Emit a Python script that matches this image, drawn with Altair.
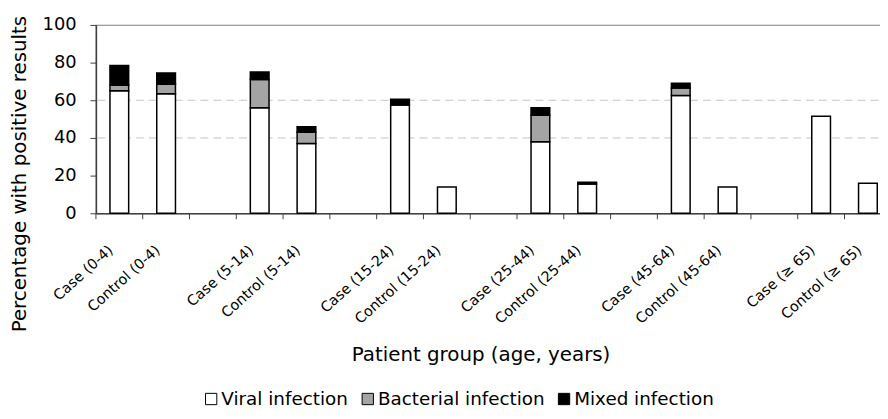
import altair as alt
import pandas as pd

# ---- data ----
bar_labels = ["Case (0-4)", "Control (0-4)", "Case (5-14)", "Control (5-14)",
              "Case (15-24)", "Control (15-24)", "Case (25-44)", "Control (25-44)",
              "Case (45-64)", "Control (45-64)", "Case (≥ 65)", "Control (≥ 65)"]
viral = [65, 63.5, 56, 37, 57.5, 14, 38, 15.5, 62.5, 14, 51.5, 16]
bacterial = [3, 5, 15, 6, 0, 0, 14, 0, 4, 0, 0, 0]
mixed = [10.5, 6, 4, 3, 3, 0, 4, 1, 2.5, 0, 0, 0]
series = ["Viral infection", "Bacterial infection", "Mixed infection"]
colors = ["#ffffff", "#a4a4a4", "#000000"]
y_ticks = [0, 20, 40, 60, 80, 100]
grid_values = [40, 60]

# slot domain: Case, Control, then an empty spacer slot between age groups
domain = []
for i in range(0, len(bar_labels), 2):
    domain += [bar_labels[i], bar_labels[i + 1]]
    if i + 2 < len(bar_labels):
        domain.append("gap%d" % (i // 2))

rows = []
for lab, v, b, m in zip(bar_labels, viral, bacterial, mixed):
    for k, (s, val) in enumerate(zip(series, [v, b, m])):
        rows.append({"label": lab, "series": s, "value": val, "ord": k})
df = pd.DataFrame(rows)

FONT = "DejaVu Sans"
W = 802.4
H = 190
step = W / len(domain)

y_axis = alt.Axis(title="Percentage with positive results", values=y_ticks,
                  grid=False, tickSize=6, tickColor="#404040",
                  domainColor="#404040", labelPadding=14,
                  labelFont=FONT, labelFontSize=18, labelColor="black",
                  titleFont=FONT, titleFontSize=20, titleFontWeight="normal",
                  titleColor="black", titleAngle=270, titleX=-77, titleY=150,
                  titleAlign="center", titleBaseline="middle")
y_scale = alt.Scale(domain=[0, 100])

x_axis = alt.Axis(title="Patient group (age, years)",
                  labelAngle=-42, labelAlign="right", labelBaseline="middle",
                  labelFont=FONT, labelFontSize=14.5, labelColor="black",
                  ticks=False, tickSize=0, labelPadding=35, labelOffset=-8,
                  domainColor="#404040",
                  labelExpr="indexof(datum.label, 'gap') == 0 ? '' : datum.label",
                  labelOverlap=False, labelBound=False, labelFlush=False,
                  labelLimit=0,
                  titleFont=FONT, titleFontSize=20, titleFontWeight="normal",
                  titleColor="black", titleX=388, titleY=149,
                  titleAlign="center", titleBaseline="alphabetic")
x_scale = alt.Scale(domain=domain, paddingInner=0.6, paddingOuter=0.3)

grid = alt.Chart(pd.DataFrame({"g": grid_values})).mark_rule(
    color="#c4c4c4", strokeDash=[8, 5], strokeWidth=1
).encode(y=alt.Y("g:Q", axis=y_axis, scale=y_scale))

# category tick marks at slot boundaries (drawn from the band scale)
ticks = alt.Chart(pd.DataFrame({"label": domain})).mark_rule(
    color="#404040", strokeWidth=1, xOffset=-0.3 * step
).encode(
    x=alt.X("label:N", sort=domain, scale=x_scale, axis=x_axis, bandPosition=0),
    y=alt.value(H), y2=alt.value(H + 6),
)

bars = alt.Chart(df).transform_filter("datum.value > 0").mark_bar(
    stroke="black", strokeWidth=1.5
).encode(
    x=alt.X("label:N", sort=domain, scale=x_scale, axis=x_axis),
    y=alt.Y("value:Q", stack="zero", scale=y_scale, axis=y_axis),
    color=alt.Color("series:N", scale=alt.Scale(domain=series, range=colors),
                    legend=alt.Legend(title=None, orient="none", legendX=107, legendY=368,
                                      direction="horizontal", symbolType="square",
                                      symbolSize=130, symbolStrokeColor="black",
                                      symbolStrokeWidth=1, labelFont=FONT,
                                      labelFontSize=18.5, labelColor="black",
                                      labelLimit=0,
                                      labelOffset=1, columnPadding=10, padding=0)),
    order=alt.Order("ord:Q"),
)

chart = alt.layer(grid, ticks, bars).properties(
    width=W, height=H, autosize="none",
    padding={"left": 88.7, "top": 15.3, "right": -11.4, "bottom": 200},
).configure_view(stroke="#808080", strokeWidth=1.2).configure_axis(domainWidth=1.5)

chart.save("out.html", embed_options={"renderer": "svg", "actions": False})
